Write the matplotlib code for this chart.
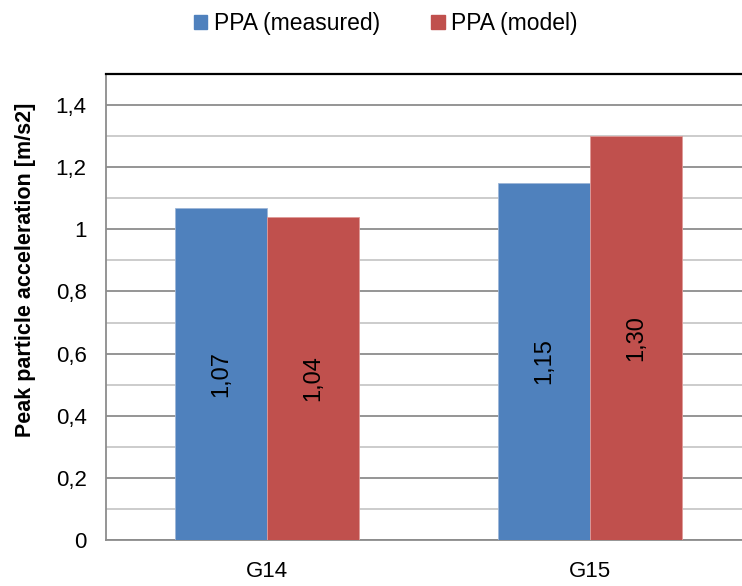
import matplotlib.pyplot as plt
import numpy as np
from matplotlib.ticker import FuncFormatter, MultipleLocator
from matplotlib.patches import Patch

plt.rcParams['font.family'] = ['Liberation Sans Narrow', 'Liberation Sans', 'DejaVu Sans']

categories = ['G14', 'G15']
measured = [1.07, 1.15]
model = [1.04, 1.30]
series_names = ['PPA (measured)', 'PPA (model)']

blue = '#4F81BD'
red = '#C0504D'

fig = plt.figure(figsize=(7.42, 5.86), dpi=100)
ax = fig.add_axes([106 / 742, 46 / 586, 1 - 106 / 742, (540 - 74) / 586])

x = np.arange(len(categories))
w = 0.285
b1 = ax.bar(x - w / 2, measured, w, color=blue, zorder=3, edgecolor='#9DB6D8', linewidth=0.6)
b2 = ax.bar(x + w / 2, model, w, color=red, zorder=3, edgecolor='#E09A98', linewidth=0.6)

for bars, vals in ((b1, measured), (b2, model)):
    for rect, v in zip(bars, vals):
        ax.text(rect.get_x() + rect.get_width() / 2, v / 2, f'{v:.2f}'.replace('.', ','),
                rotation=90, ha='center', va='center', fontsize=17, zorder=4)

ax.set_xlim(-0.5, 1.47)
ax.set_ylim(0, 1.5)
ax.yaxis.set_major_locator(MultipleLocator(0.2))
ax.yaxis.set_minor_locator(MultipleLocator(0.1))
ax.yaxis.set_major_formatter(FuncFormatter(lambda v, p: f'{v:g}'.replace('.', ',')))
ax.grid(axis='y', which='major', color='#8C8C8C', linewidth=1.3, zorder=0)
ax.grid(axis='y', which='minor', color='#C8C8C8', linewidth=1.3, zorder=0)
ax.set_xticks(x)
ax.set_xticklabels(categories)
ax.tick_params(axis='both', which='both', length=0, labelsize=16)
ax.tick_params(axis='x', pad=15)
ax.tick_params(axis='y', pad=14)

ax.spines['right'].set_visible(False)
ax.spines['top'].set_color('black')
ax.spines['top'].set_linewidth(1.6)
ax.spines['left'].set_color('#8C8C8C')
ax.spines['left'].set_linewidth(1.3)
ax.spines['bottom'].set_color('#8C8C8C')
ax.spines['bottom'].set_linewidth(1.3)

ax.set_ylabel('Peak particle acceleration [m/s2]', fontsize=15.5, fontweight='bold')
ax.yaxis.set_label_coords(-0.11, 0.58)

handles = [Patch(color=blue), Patch(color=red)]
fig.legend(handles, series_names, loc='center', bbox_to_anchor=(0.52, 0.96), ncol=2,
           frameon=False, fontsize=16.5, handlelength=0.6, handleheight=0.6,
           handletextpad=0.3, columnspacing=2.2)

fig.savefig('out.png', dpi=100)
